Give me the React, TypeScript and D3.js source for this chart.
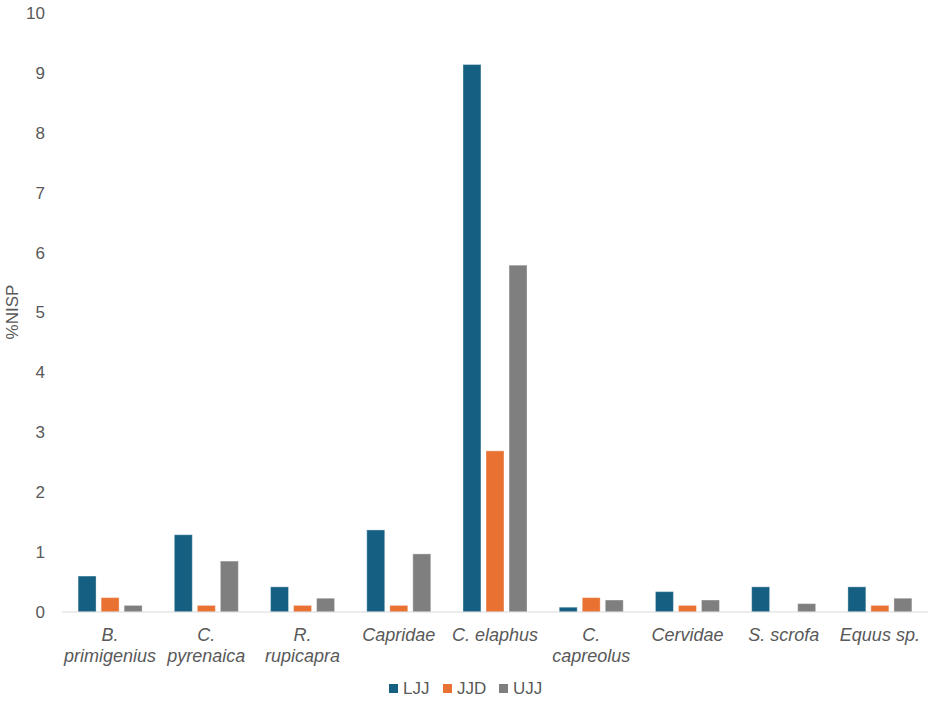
import { useMemo } from 'react';
import * as d3 from 'd3';

const WIDTH = 935;
const HEIGHT = 701;

const categories = [
  ['B.', 'primigenius'],
  ['C.', 'pyrenaica'],
  ['R.', 'rupicapra'],
  ['Capridae'],
  ['C. elaphus'],
  ['C.', 'capreolus'],
  ['Cervidae'],
  ['S. scrofa'],
  ['Equus sp.'],
];

const seriesNames = ['LJJ', 'JJD', 'UJJ'];
const seriesColors = ['#156082', '#E97132', '#7F7F7F'];

const ljj = [0.6, 1.29, 0.42, 1.37, 9.14, 0.08, 0.34, 0.42, 0.42];
const jjd = [0.24, 0.11, 0.11, 0.11, 2.69, 0.24, 0.11, 0, 0.11];
const ujj = [0.11, 0.85, 0.23, 0.97, 5.79, 0.2, 0.2, 0.14, 0.23];

const yTicks = [0, 1, 2, 3, 4, 5, 6, 7, 8, 9, 10];

const PLOT = { left: 62, right: 928, top: 13, bottom: 612 };
const FONT = '"Liberation Sans", Arial, sans-serif';

export default function App() {
  const series = [ljj, jjd, ujj];

  const x = useMemo(
    () => d3.scaleBand<number>()
      .domain(d3.range(categories.length))
      .range([PLOT.left, PLOT.right]),
    [],
  );

  const y = useMemo(
    () => d3.scaleLinear().domain([0, 10]).range([PLOT.bottom, PLOT.top]),
    [],
  );

  // bars inside each category
  const inner = useMemo(
    () => d3.scaleBand<number>()
      .domain(d3.range(seriesNames.length))
      .range([0, 64])
      .paddingInner(0.22),
    [],
  );
  const groupOffset = (x.bandwidth() - 64) / 2;

  const legendX = [389, 443, 499];

  return (
    <svg width={WIDTH} height={HEIGHT} style={{ position: 'absolute', left: 0, top: 0 }}>
      <rect width={WIDTH} height={HEIGHT} fill="white" />

      {yTicks.map((t) => (
        <text
          key={t}
          x={45}
          y={y(t)}
          dy="0.35em"
          textAnchor="end"
          fontFamily={FONT}
          fontSize={17}
          fill="#595959"
        >
          {t}
        </text>
      ))}

      <text
        transform={`translate(18, 312) rotate(-90)`}
        textAnchor="middle"
        fontFamily={FONT}
        fontSize={17}
        fill="#595959"
      >
        %NISP
      </text>

      {series.map((vals, s) => (
        <g key={s}>
          {vals.map((v, i) => (v > 0 ? (
            <rect
              key={i}
              x={(x(i) ?? 0) + groupOffset + (inner(s) ?? 0)}
              y={y(v)}
              width={inner.bandwidth()}
              height={y(0) - y(v)}
              fill={seriesColors[s]}
              stroke="white"
              strokeOpacity={0.35}
              strokeWidth={1}
            />
          ) : null))}
        </g>
      ))}

      <line
        x1={PLOT.left}
        x2={PLOT.right}
        y1={y(0)}
        y2={y(0)}
        stroke="#D9D9D9"
        strokeWidth={1.2}
      />

      {categories.map((lines, i) => (
        <text
          key={i}
          x={(x(i) ?? 0) + x.bandwidth() / 2}
          y={641}
          textAnchor="middle"
          fontFamily={FONT}
          fontSize={18}
          fontStyle="italic"
          fill="#595959"
        >
          {lines.map((l, j) => (
            <tspan key={j} x={(x(i) ?? 0) + x.bandwidth() / 2} dy={j === 0 ? 0 : 21}>
              {l}
            </tspan>
          ))}
        </text>
      ))}

      {seriesNames.map((name, s) => (
        <g key={name} transform={`translate(${legendX[s]}, 684)`}>
          <rect width={9} height={9} fill={seriesColors[s]} />
          <text
            x={14}
            y={4.5}
            dy="0.35em"
            fontFamily={FONT}
            fontSize={17}
            fill="#595959"
          >
            {name}
          </text>
        </g>
      ))}
    </svg>
  );
}
